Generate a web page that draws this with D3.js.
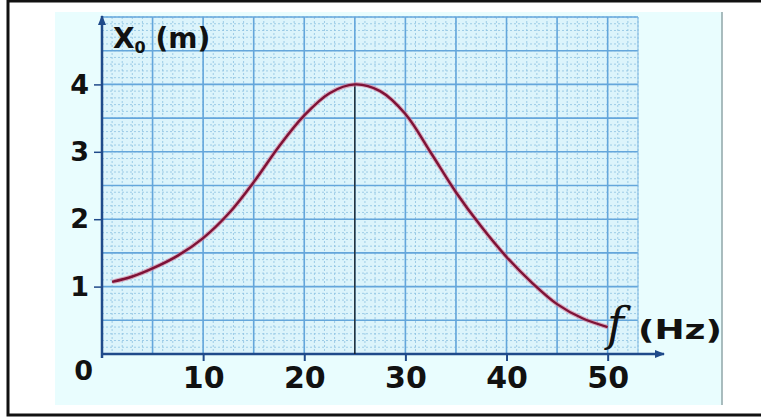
<!DOCTYPE html>
<html lang="fr">
<head>
<meta charset="UTF-8">
<title>X0 (m) en fonction de f (Hz)</title>
<script src="https://cdn.jsdelivr.net/npm/d3@7"></script>
<style>
  body { margin: 0; background: #fff; }
  svg { display: block; }
  .tick text { font-family: "DejaVu Sans", sans-serif; font-weight: bold; fill: #111; }
</style>
</head>
<body>
<svg id="chart" width="761" height="419"></svg>
<script>
// valeurs
var freq = [1, 3, 5, 7.5, 10, 12.5, 15, 17.5, 20, 22.5, 25, 27.5, 30, 32.5, 35, 37.5, 40, 42.5, 45, 47.5, 50];
var ampl = [1.07, 1.15, 1.27, 1.46, 1.72, 2.08, 2.55, 3.08, 3.54, 3.87, 4.0, 3.9, 3.56, 2.99, 2.4, 1.89, 1.44, 1.06, 0.74, 0.53, 0.40];
var xTicks = [10, 20, 30, 40, 50];
var yTicks = [0, 1, 2, 3, 4];
var fRes = 25;   // frequence de resonance
var aRes = 4;

var svg = d3.select('#chart');

// cadre + fond
svg.append('rect')
    .attr('x', 8).attr('y', 1).attr('width', 800).attr('height', 414)
    .attr('fill', '#fff').attr('stroke', '#111').attr('stroke-width', 3);
svg.append('rect')
    .attr('x', 55).attr('y', 12).attr('width', 667).attr('height', 393)
    .attr('fill', '#e9fdfe');
svg.append('line')
    .attr('x1', 722).attr('x2', 722).attr('y1', 12).attr('y2', 405)
    .attr('stroke', '#8fa6a8').attr('stroke-width', 1.5);

var x = d3.scaleLinear().domain([0, 53]).range([102, 638]);
var y = d3.scaleLinear().domain([0, 5]).range([354, 17]);

// papier millimetre
var grid = svg.append('g');
grid.append('rect')
    .attr('x', x(0)).attr('y', y(5))
    .attr('width', x(53) - x(0)).attr('height', y(0) - y(5))
    .attr('fill', '#dcf4fb');

grid.selectAll('.vmin').data(d3.range(1, 54, 1))
    .enter().append('line')
    .attr('x1', d => x(d)).attr('x2', d => x(d))
    .attr('y1', y(5)).attr('y2', y(0))
    .attr('stroke', '#8ec3e3').attr('stroke-width', 1)
    .attr('stroke-dasharray', '2,2').attr('opacity', 0.8);
grid.selectAll('.hmin').data(d3.range(0.1, 5.01, 0.1))
    .enter().append('line')
    .attr('x1', x(0)).attr('x2', x(53))
    .attr('y1', d => y(d)).attr('y2', d => y(d))
    .attr('stroke', '#8ec3e3').attr('stroke-width', 1)
    .attr('stroke-dasharray', '2,2').attr('opacity', 0.8);

grid.selectAll('.vmaj').data(d3.range(5, 53, 5))
    .enter().append('line')
    .attr('x1', d => x(d)).attr('x2', d => x(d))
    .attr('y1', y(5)).attr('y2', y(0))
    .attr('stroke', '#64a6db').attr('stroke-width', 1.6);
grid.selectAll('.hmaj').data(d3.range(0.5, 5.01, 0.5))
    .enter().append('line')
    .attr('x1', x(0)).attr('x2', x(53))
    .attr('y1', d => y(d)).attr('y2', d => y(d))
    .attr('stroke', '#64a6db').attr('stroke-width', 1.6);
grid.append('line')
    .attr('x1', x(53)).attr('x2', x(53)).attr('y1', y(5)).attr('y2', y(0))
    .attr('stroke', '#7fb6e0').attr('stroke-width', 1);

// axes
var defs = svg.append('defs');
defs.append('marker')
    .attr('id', 'arrow').attr('viewBox', '0 0 10 10')
    .attr('refX', 9).attr('refY', 5)
    .attr('markerWidth', 5).attr('markerHeight', 4)
    .attr('markerUnits', 'strokeWidth')
    .attr('orient', 'auto')
    .append('path').attr('d', 'M0,1 L10,5 L0,9 Z').attr('fill', '#1f4a8a');

svg.append('line')
    .attr('x1', x(0)).attr('x2', 664).attr('y1', y(0)).attr('y2', y(0))
    .attr('stroke', '#1f4a8a').attr('stroke-width', 2.5)
    .attr('marker-end', 'url(#arrow)');
svg.append('line')
    .attr('x1', x(0)).attr('x2', x(0)).attr('y1', y(0) + 4).attr('y2', 16)
    .attr('stroke', '#1f4a8a').attr('stroke-width', 2.5)
    .attr('marker-end', 'url(#arrow)');

var xAxisG = svg.append('g')
    .attr('transform', `translate(0,${y(0)})`)
    .call(d3.axisBottom(x).tickValues(xTicks).tickSize(7).tickPadding(6));
xAxisG.select('.domain').remove();
xAxisG.selectAll('.tick line').attr('stroke', '#1f4a8a').attr('stroke-width', 2);
xAxisG.selectAll('.tick text').style('font-size', '30px');

var yAxisG = svg.append('g')
    .attr('transform', `translate(${x(0)},0)`)
    .call(d3.axisLeft(y).tickValues(yTicks).tickFormat(d3.format('d')).tickSize(8).tickPadding(5));
yAxisG.select('.domain').remove();
yAxisG.selectAll('.tick line').attr('stroke', '#1f4a8a').attr('stroke-width', 1.5)
    .filter(d => d === 0).remove();
yAxisG.selectAll('.tick text').style('font-size', '27px');
yAxisG.selectAll('.tick text').filter(d => d === 0).attr('dy', '0.95em').attr('x', -9);

// titres des axes
var yLab = svg.append('text')
    .attr('x', 113).attr('y', 48)
    .style('font-family', '"DejaVu Sans", sans-serif')
    .style('font-weight', 'bold').style('font-size', '28px').attr('fill', '#111');
yLab.append('tspan').text('X');
yLab.append('tspan').attr('dy', 5).style('font-size', '16px').text('0');
yLab.append('tspan').attr('dy', -5).text(' (m)');

svg.append('text')
    .attr('x', 607).attr('y', 340)
    .style('font-family', '"DejaVu Serif", serif')
    .style('font-style', 'italic').style('font-size', '46px')
    .attr('fill', '#111').text('f');
svg.append('text')
    .attr('x', 638).attr('y', 339)
    .attr('textLength', 84).attr('lengthAdjust', 'spacingAndGlyphs')
    .style('font-family', '"DejaVu Sans", sans-serif')
    .style('font-weight', 'bold').style('font-size', '27px')
    .attr('fill', '#111').text('(Hz)');

// trait de resonance
svg.append('line')
    .attr('x1', x(fRes)).attr('x2', x(fRes))
    .attr('y1', y(aRes)).attr('y2', y(0))
    .attr('stroke', '#111').attr('stroke-width', 1.2);

// courbe
var pts = freq.map((f, i) => [f, ampl[i]]);
var line = d3.line()
    .x(d => x(d[0])).y(d => y(d[1]))
    .curve(d3.curveCatmullRom.alpha(0.5));

svg.append('path').datum(pts)
    .attr('d', line).attr('fill', 'none')
    .attr('stroke', '#d77a98').attr('stroke-width', 4.5).attr('opacity', 0.6);
svg.append('path').datum(pts)
    .attr('d', line).attr('fill', 'none')
    .attr('stroke', '#7e1236').attr('stroke-width', 2.4);
</script>
</body>
</html>
